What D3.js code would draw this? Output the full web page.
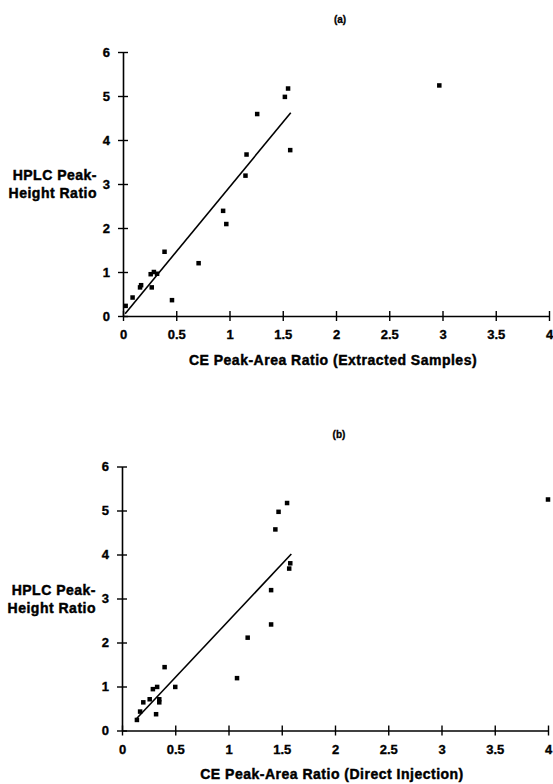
<!DOCTYPE html>
<html>
<head>
<meta charset="utf-8">
<script src="https://cdn.jsdelivr.net/npm/d3@7"></script>
<style>
  html, body { margin: 0; padding: 0; background: #fff; }
  svg { display: block; }
</style>
</head>
<body>
<svg id="chart" width="553" height="784"></svg>
<script>
// panel (a): CE extracted samples vs HPLC
const ceExtracted = [0.025, 0.09, 0.16, 0.17, 0.27, 0.26, 0.29, 0.32, 0.39, 0.46, 0.71, 0.94, 0.97, 1.15, 1.16, 1.26, 1.55, 1.52, 1.57, 2.97]
const hplcA = [0.23, 0.42, 0.65, 0.7, 0.65, 0.95, 1.0, 0.96, 1.46, 0.36, 1.2, 2.39, 2.09, 3.19, 3.67, 4.59, 5.17, 4.98, 3.77, 5.24]

// panel (b): CE direct injection vs HPLC
const ceDirect = [0.14, 0.17, 0.2, 0.26, 0.29, 0.33, 0.35, 0.35, 0.32, 0.4, 0.5, 1.08, 1.18, 1.4, 1.4, 1.44, 1.47, 1.55, 1.57, 1.58, 4.0]
const hplcB = [0.24, 0.43, 0.64, 0.71, 0.94, 0.99, 0.71, 0.64, 0.37, 1.44, 0.99, 1.19, 2.11, 3.19, 2.41, 4.57, 4.97, 5.17, 3.68, 3.8, 5.25]

// fitted lines (end points)
const fitA = [[0.02, 0.05], [1.575, 4.62]]
const fitB = [[0.14, 0.28], [1.59, 4.01]]

const xTicks = [0, 0.5, 1, 1.5, 2, 2.5, 3, 3.5, 4]
const yTicks = [0, 1, 2, 3, 4, 5, 6]

const panels = [
  { tag: '(a)', xTitle: 'CE Peak-Area Ratio (Extracted Samples)', x: ceExtracted, y: hplcA, fit: fitA, dx: 0, dy: 0 },
  { tag: '(b)', xTitle: 'CE Peak-Area Ratio (Direct Injection)', x: ceDirect, y: hplcB, fit: fitB, dx: -1, dy: 414.5 },
]

const font = '"Liberation Sans", Arial, Helvetica, sans-serif'
const svgRoot = d3.select('#chart')

panels.forEach((p) => {
  const left = 123
  const top = 52
  const w = 426
  const h = 264

  const x = d3.scaleLinear().domain([0, 4]).range([left, left + w])
  const y = d3.scaleLinear().domain([0, 6]).range([top + h, top])

  const g = svgRoot
    .append('g')
    .attr('transform', `translate(${p.dx},${p.dy})`)
    .style('font-family', font)
    .style('font-weight', 'bold')

  // x axis
  const xAxis = g
    .append('g')
    .attr('transform', `translate(0,${top + h})`)
    .call(d3.axisBottom(x).tickValues(xTicks).tickFormat(d3.format('')).tickSize(5).tickSizeOuter(0).tickPadding(9))

  // y axis
  const yAxis = g
    .append('g')
    .attr('transform', `translate(${left},0)`)
    .call(d3.axisLeft(y).tickValues(yTicks).tickFormat(d3.format('d')).tickSize(5).tickSizeOuter(0).tickPadding(8))

  // ticks cross the axis line, heavy print-style text
  g.selectAll('.domain').attr('stroke', '#000').attr('stroke-width', 1.6)
  xAxis.selectAll('.tick line').attr('y1', -5).attr('y2', 5).attr('stroke-width', 1.4)
  yAxis.selectAll('.tick line').attr('x1', -5).attr('x2', 5).attr('stroke-width', 1.4)
  g.selectAll('.tick text')
    .attr('font-size', 13)
    .attr('fill', '#000')
    .attr('stroke', '#000')
    .attr('stroke-width', 0.35)

  // panel tag
  g.append('text')
    .attr('x', 340)
    .attr('y', 23)
    .attr('text-anchor', 'middle')
    .attr('font-size', 10)
    .attr('stroke', '#000')
    .attr('stroke-width', 0.3)
    .text(p.tag)

  // axis titles
  g.append('text')
    .attr('x', x(2) - 3)
    .attr('y', top + h + 48.5)
    .attr('text-anchor', 'middle')
    .attr('font-size', 14)
    .attr('letter-spacing', 0.5)
    .attr('stroke', '#000')
    .attr('stroke-width', 0.45)
    .text(p.xTitle)

  const yt = g
    .append('text')
    .attr('text-anchor', 'end')
    .attr('font-size', 14)
    .attr('letter-spacing', 0.5)
    .attr('stroke', '#000')
    .attr('stroke-width', 0.45)
  yt.append('tspan').attr('x', 97).attr('y', y(3) - 4).text('HPLC Peak-')
  yt.append('tspan').attr('x', 97).attr('y', y(3) + 14).text('Height Ratio')

  // fitted line
  g.append('line')
    .attr('x1', x(p.fit[0][0]))
    .attr('y1', y(p.fit[0][1]))
    .attr('x2', x(p.fit[1][0]))
    .attr('y2', y(p.fit[1][1]))
    .attr('stroke', '#000')
    .attr('stroke-width', 1.6)

  // points
  const s = 4.5
  g.append('g')
    .selectAll('rect')
    .data(d3.zip(p.x, p.y))
    .join('rect')
    .attr('x', (d) => x(d[0]) - s / 2)
    .attr('y', (d) => y(d[1]) - s / 2)
    .attr('width', s)
    .attr('height', s)
    .attr('fill', '#000')
})
</script>
</body>
</html>
